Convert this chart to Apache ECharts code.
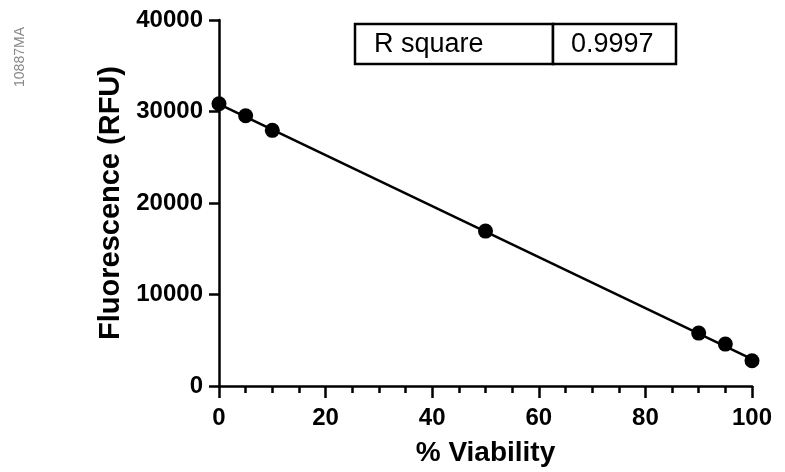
<!DOCTYPE html>
<html>
<head>
<meta charset="utf-8">
<script src="https://cdn.jsdelivr.net/npm/echarts@6/dist/echarts.min.js"></script>
<style>html,body{margin:0;padding:0;background:#fff;}#c{width:785px;height:472px;}</style>
</head>
<body>
<div id="c"></div>
<script>
// Data
var viability = [0, 5, 10, 50, 90, 95, 100];
var fluorescence = [30850, 29540, 27940, 16930, 5780, 4580, 2760];
var fitX = [0, 100];
var fitY = [30800, 2930];
var xTicks = [0, 20, 40, 60, 80, 100];
var yTicks = [0, 10000, 20000, 30000, 40000];
var rSquareLabel = 'R square';
var rSquareValue = '0.9997';

var chart = echarts.init(document.getElementById('c'), null, {renderer: 'canvas'});
var font = 'Liberation Sans, Arial, sans-serif';
chart.setOption({
  animation: false,
  backgroundColor: '#fff',
  grid: {left: 219, right: 33, top: 20, bottom: 85, containLabel: false},
  xAxis: {
    type: 'value', min: 0, max: 100, interval: 20,
    name: '% Viability', nameLocation: 'middle', nameGap: 53,
    nameTextStyle: {fontFamily: font, fontWeight: 'bold', fontSize: 28, color: '#000'},
    axisLine: {show: true, onZero: false, lineStyle: {color: '#000', width: 2.5}},
    axisTick: {show: true, inside: false, length: 12, lineStyle: {color: '#000', width: 2.5}},
    minorTick: {show: true, splitNumber: 4, length: 7, lineStyle: {color: '#000', width: 2.5}},
    axisLabel: {margin: 20, fontFamily: font, fontWeight: 'bold', fontSize: 24, color: '#000',
      formatter: function (v) { return xTicks.indexOf(v) >= 0 ? String(v) : ''; }},
    splitLine: {show: false}
  },
  yAxis: {
    type: 'value', min: 0, max: 40000, interval: 10000,
    name: 'Fluorescence (RFU)', nameLocation: 'middle', nameGap: 94,
    nameTextStyle: {fontFamily: font, fontWeight: 'bold', fontSize: 29, color: '#000'},
    axisLine: {show: true, onZero: false, lineStyle: {color: '#000', width: 2.5}},
    axisTick: {show: true, inside: false, length: 10, lineStyle: {color: '#000', width: 2.5}},
    axisLabel: {margin: 16, fontFamily: font, fontWeight: 'bold', fontSize: 24, color: '#000',
      formatter: function (v) { return yTicks.indexOf(v) >= 0 ? String(v) : ''; }},
    splitLine: {show: false}
  },
  series: [
    {
      type: 'line', data: fitX.map(function (x, i) { return [x, fitY[i]]; }),
      symbol: 'none', lineStyle: {color: '#000', width: 2.5}, z: 2
    },
    {
      type: 'scatter', data: viability.map(function (x, i) { return [x, fluorescence[i]]; }),
      symbol: 'circle', symbolSize: 15, itemStyle: {color: '#000', opacity: 1}, z: 3
    }
  ],
  graphic: [
    {type: 'rect', shape: {x: 355, y: 24, width: 198, height: 40}, style: {fill: '#fff', stroke: '#000', lineWidth: 2.5}},
    {type: 'rect', shape: {x: 553, y: 24, width: 123, height: 40}, style: {fill: '#fff', stroke: '#000', lineWidth: 2.5}},
    {type: 'text', x: 374, y: 45, style: {text: rSquareLabel, font: '27px ' + font, fill: '#000', verticalAlign: 'middle'}},
    {type: 'text', x: 571, y: 45, style: {text: rSquareValue, font: '27px ' + font, fill: '#000', verticalAlign: 'middle'}},
    {type: 'text', x: 20, y: 57, rotation: Math.PI / 2, style: {text: '10887MA', font: '14px ' + font, fill: '#888', align: 'center', verticalAlign: 'middle'}}
  ]
});
</script>
</body>
</html>
